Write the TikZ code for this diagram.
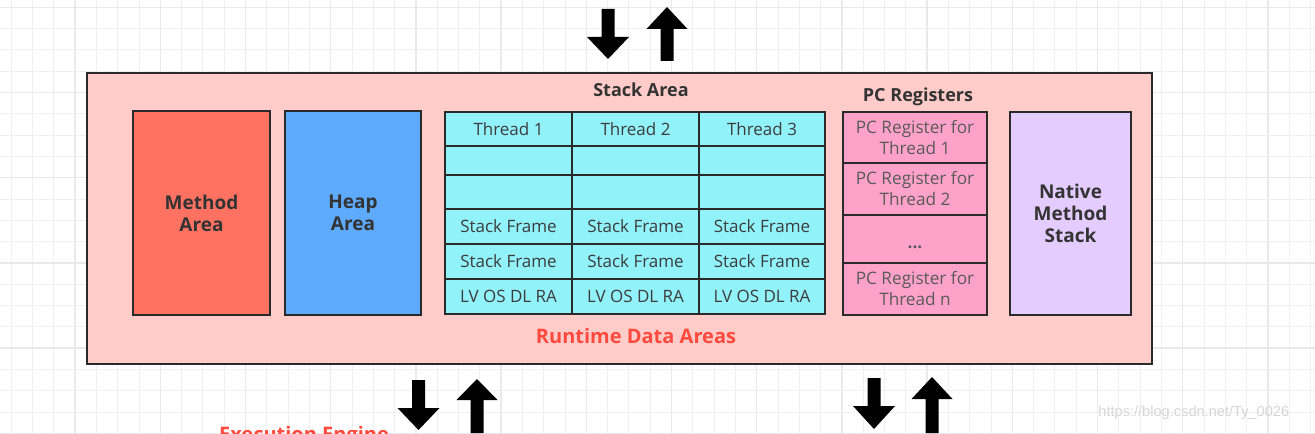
\documentclass[tikz,border=0pt]{standalone}
\usepackage{fontspec}
\setmainfont{Open Sans}
\newfontfamily\wmfont{Liberation Sans}
\definecolor{gridc}{HTML}{F0F0F0}
\definecolor{gridm}{HTML}{E9E9E9}
\definecolor{outerfill}{HTML}{FFCCCA}
\definecolor{methodfill}{HTML}{FF7262}
\definecolor{heapfill}{HTML}{5EAAFC}
\definecolor{cyanfill}{HTML}{91F2FA}
\definecolor{pcfill}{HTML}{FFA2CA}
\definecolor{nativefill}{HTML}{E4CCFF}
\definecolor{labelc}{HTML}{333333}
\definecolor{cellc}{HTML}{3C3C3C}
\definecolor{pctext}{HTML}{5A5A5A}
\definecolor{redlabel}{HTML}{FF4A3D}
\definecolor{edge}{HTML}{2A2A2A}
\newcommand\DownBlk[4]{% cx, ytop, yhead, ytip
  \fill[black] (#1-6.5,#2) -- (#1+6.5,#2) -- (#1+6.5,#3) -- (#1+21,#3) -- (#1,#4) -- (#1-21,#3) -- (#1-6.5,#3) -- cycle;}
\newcommand\UpBlk[4]{% cx, ybottom, yhead, ytip
  \fill[black] (#1-6.5,#2) -- (#1+6.5,#2) -- (#1+6.5,#3) -- (#1+20.5,#3) -- (#1,#4) -- (#1-20.5,#3) -- (#1-6.5,#3) -- cycle;}
\tikzset{
  blk/.style={draw=edge, line width=1pt, inner sep=0pt, outer sep=0pt, anchor=north west, align=center},
  biglabel/.style={font=\fontsize{9.5}{11}\selectfont\bfseries, text=labelc, align=center},
  celltext/.style={font=\fontsize{8.5}{10.5}\selectfont, text=cellc},
  pctxt/.style={font=\fontsize{8.6}{10.5}\selectfont, text=pctext},
  hdr/.style={font=\fontsize{9}{11}\selectfont\bfseries, text=labelc, inner sep=0pt},
  redtxt/.style={font=\fontsize{10}{12}\selectfont\bfseries, text=redlabel, inner sep=0pt},
}
\begin{document}
\begin{tikzpicture}[x=0.5pt,y=-0.5pt]
\useasboundingbox (0,0) rectangle (1315,433);
\fill[white] (0,0) rectangle (1315,433);
% grid
\foreach \k in {0,...,61}{
  \pgfmathtruncatemacro\m{mod(\k,4)}
  \ifnum\m=3 \draw[gridm,line width=0.7pt] (11.2+21.3*\k,0) -- (11.2+21.3*\k,433);
  \else \draw[gridc,line width=0.5pt] (11.2+21.3*\k,0) -- (11.2+21.3*\k,433); \fi}
\foreach \k in {0,...,20}{
  \pgfmathtruncatemacro\m{mod(\k,4)}
  \ifnum\m=0 \draw[gridm,line width=0.7pt] (0,7.3+21.3*\k) -- (1315,7.3+21.3*\k);
  \else \draw[gridc,line width=0.5pt] (0,7.3+21.3*\k) -- (1315,7.3+21.3*\k); \fi}
% outer box
\node[blk, fill=outerfill, line width=1.2pt, minimum width=532.5pt, minimum height=145.5pt] (outer) at (87,73) {};
% method and heap
\node[blk, fill=methodfill, minimum width=68.5pt, minimum height=102pt] (method) at (133,111) {};
\node[biglabel] at (method.center) {Method\\Area};
\node[blk, fill=heapfill, minimum width=68pt, minimum height=102pt] (heap) at (285,111) {};
\node[biglabel] at (heap.center) {Heap\\Area};
% stack area
\node[hdr] (stacklbl) at (641,90) {Stack Area};
\foreach \c/\x/\w in {1/445/63.5, 2/572/63.5, 3/699/63}{
  \foreach \r/\y/\h/\t in {1/112/17/{Thread \c}, 2/146/14.5/{}, 3/175/17/{}, 4/209/17.5/{Stack Frame}, 5/244/17.5/{Stack Frame}, 6/279/17.5/{LV OS DL RA}}{
    \node[blk, fill=cyanfill, minimum width=\w pt, minimum height=\h pt] (s\r\c) at (\x,\y) {};
    \node[celltext] at (s\r\c.center) {\t};
  }
}
% pc registers
\node[hdr] (pclbl) at (918,97) {PC Registers};
\node[blk, fill=pcfill, minimum width=72pt, minimum height=25.5pt] (pc1) at (843,112) {};
\node[pctxt, align=center] at (pc1.center) {PC Register for\\Thread 1};
\node[blk, fill=pcfill, minimum width=72pt, minimum height=26pt] (pc2) at (843,163) {};
\node[pctxt, align=center] at (pc2.center) {PC Register for\\Thread 2};
\node[blk, fill=pcfill, minimum width=72pt, minimum height=24pt] (pc3) at (843,215) {};
\node[pctxt, font=\fontsize{8.6}{10.5}\selectfont\bfseries] at ([yshift=-4pt]pc3.center) {...};
\node[blk, fill=pcfill, minimum width=72pt, minimum height=26pt] (pc4) at (843,263) {};
\node[pctxt, align=center] at (pc4.center) {PC Register for\\Thread n};
% native
\node[blk, fill=nativefill, minimum width=60.5pt, minimum height=101.5pt] (native) at (1010,112) {};
\node[biglabel] at (native.center) {Native\\Method\\Stack};
% labels
\node[redtxt] (rda) at (636,336) {Runtime Data Areas};
\node[redtxt, anchor=north] (exe) at (304,426) {Execution Engine};
\node[font=\wmfont\fontsize{7.3}{9}\selectfont, text=black!16, anchor=west, inner sep=0pt] (wm) at (1098,413) {https://blog.csdn.net/Ty\_0026};
% arrows
\DownBlk{608}{9}{37}{59}
\UpBlk{667}{61}{29}{7}
\DownBlk{418.5}{380}{408}{430}
\UpBlk{477}{433}{400}{379}
\DownBlk{874}{378}{406}{429}
\UpBlk{932}{433}{399}{377}
\end{tikzpicture}
\end{document}
